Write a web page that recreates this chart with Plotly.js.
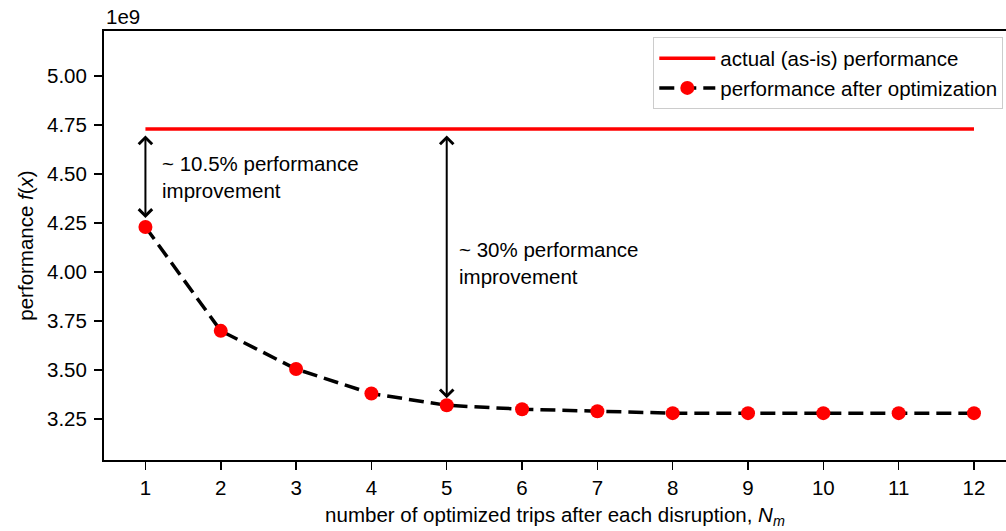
<!DOCTYPE html>
<html>
<head>
<meta charset="utf-8">
<script src="https://cdn.plot.ly/plotly-3.0.1.min.js"></script>
<style>
  html, body { margin: 0; padding: 0; background: #fff; overflow: hidden; }
  #chart { width: 1006px; height: 531px; }
</style>
</head>
<body>
<div id="chart"></div>
<script>
// Data (performance in units of 1e9)
const trips = [1, 2, 3, 4, 5, 6, 7, 8, 9, 10, 11, 12];
const perfAfter = [4.23, 3.70, 3.505, 3.38, 3.32, 3.30, 3.29, 3.28, 3.28, 3.28, 3.28, 3.28];
const asIsX = [1, 12];
const asIsY = [4.73, 4.73];
const yTickVals = [3.25, 3.50, 3.75, 4.00, 4.25, 4.50, 4.75, 5.00];
const yTickText = ["3.25", "3.50", "3.75", "4.00", "4.25", "4.50", "4.75", "5.00"];
const arrowA = { x: 1, top: 4.73, bottom: 4.23 };
const arrowB = { x: 5, top: 4.73, bottom: 3.32 };

const FONT = "Liberation Sans, Arial, Helvetica, sans-serif";
const FS = 20.5;

const traces = [
  {
    x: asIsX, y: asIsY, mode: "lines", name: "actual (as-is) performance",
    line: { color: "#ff0000", width: 3.5 }
  },
  {
    x: trips, y: perfAfter, mode: "lines+markers", name: "performance after optimization",
    line: { color: "#000000", width: 3.5, dash: "15px,7px" },
    marker: { color: "#ff0000", size: 14 }
  }
];

const layout = {
  width: 1006, height: 531,
  margin: { l: 104, r: 0, t: 31, b: 71 },
  paper_bgcolor: "#ffffff", plot_bgcolor: "#ffffff",
  font: { family: FONT, size: FS, color: "#000" },
  showlegend: true,
  legend: {
    x: 0.997, xanchor: "right", y: 0.985, yanchor: "top",
    bgcolor: "#ffffff", bordercolor: "#cccccc", borderwidth: 1,
    font: { family: FONT, size: FS, color: "#000" },
    itemwidth: 56
  },
  xaxis: {
    range: [0.45, 12.425],
    tickvals: trips, ticktext: trips.map(String),
    ticks: "outside", ticklen: 8, tickwidth: 1.5, tickcolor: "#000",
    showline: true, linecolor: "#000", linewidth: 2, mirror: true,
    showgrid: false, zeroline: false,
    tickfont: { family: FONT, size: FS },
    title: { text: "number of optimized trips after each disruption, <i>N</i><sub><i>m</i></sub>", font: { family: FONT, size: FS }, standoff: 10 }
  },
  yaxis: {
    range: [3.041, 5.2296],
    tickvals: yTickVals, ticktext: yTickText,
    ticks: "outside", ticklen: 8, tickwidth: 1.5, tickcolor: "#000",
    showline: true, linecolor: "#000", linewidth: 2, mirror: false,
    showgrid: false, zeroline: false,
    tickfont: { family: FONT, size: FS },
    ticklabelstandoff: 3,
    title: { text: "performance <i>f</i>(<i>x</i>)", font: { family: FONT, size: FS }, standoff: 8 }
  },
  annotations: [
    {
      x: arrowA.x, y: arrowA.bottom, ax: arrowA.x, ay: arrowA.top,
      xref: "x", yref: "y", axref: "x", ayref: "y",
      text: "", showarrow: true, arrowside: "end+start", arrowhead: 4, startarrowhead: 4,
      arrowsize: 1.3, startarrowsize: 1.3, arrowwidth: 2, arrowcolor: "#000",
      standoff: 9, startstandoff: 5
    },
    {
      x: arrowB.x, y: arrowB.bottom, ax: arrowB.x, ay: arrowB.top,
      xref: "x", yref: "y", axref: "x", ayref: "y",
      text: "", showarrow: true, arrowside: "end+start", arrowhead: 4, startarrowhead: 4,
      arrowsize: 1.3, startarrowsize: 1.3, arrowwidth: 2, arrowcolor: "#000",
      standoff: 7, startstandoff: 5
    },
    {
      x: 1.2, y: 4.625, xref: "x", yref: "y", xanchor: "left", yanchor: "top", align: "left",
      text: "~ 10.5% performance<br>improvement", showarrow: false,
      font: { family: FONT, size: FS, color: "#000" }
    },
    {
      x: 5.13, y: 4.185, xref: "x", yref: "y", xanchor: "left", yanchor: "top", align: "left",
      text: "~ 30% performance<br>improvement", showarrow: false,
      font: { family: FONT, size: FS, color: "#000" }
    },
    {
      x: 0, y: 1.0, xref: "paper", yref: "paper", xanchor: "left", yanchor: "bottom", yshift: 1,
      text: "1e9", showarrow: false, font: { family: FONT, size: FS, color: "#000" }
    }
  ]
};

Plotly.newPlot("chart", traces, layout, { displayModeBar: false, staticPlot: true });
</script>
</body>
</html>
